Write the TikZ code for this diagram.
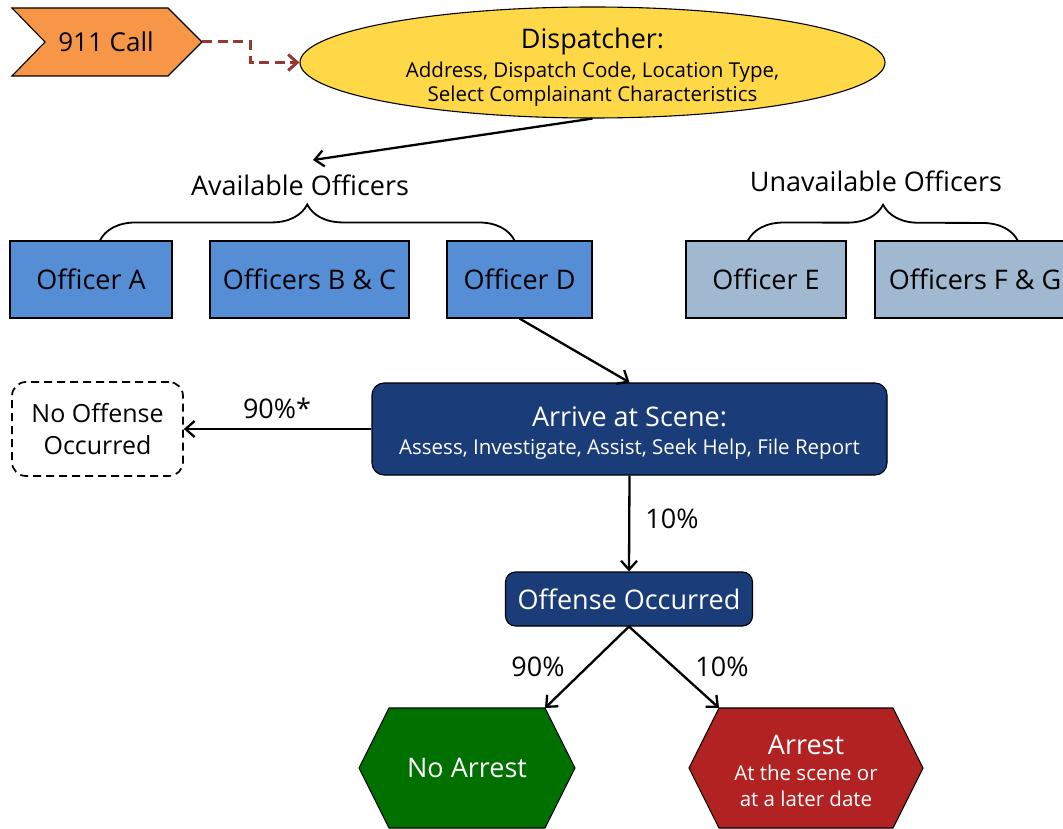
\documentclass[tikz,border=0pt]{standalone}
\usepackage{fontspec}
\setmainfont{Open Sans}
\usetikzlibrary{arrows.meta,decorations.pathreplacing,shapes.geometric}
\definecolor{callorange}{RGB}{247,150,70}
\definecolor{dashred}{RGB}{149,55,53}
\definecolor{dispyellow}{RGB}{255,216,72}
\definecolor{offblue}{RGB}{85,142,213}
\definecolor{offgrey}{RGB}{160,184,208}
\definecolor{navy}{RGB}{26,61,122}
\definecolor{nogreen}{RGB}{0,112,0}
\definecolor{arrred}{RGB}{178,34,34}
\newcommand{\bigfs}{\fontsize{27}{32}\selectfont}
\newcommand{\smallfs}{\fontsize{20.5}{24}\selectfont}
\begin{document}
\begin{tikzpicture}[x=1pt,y=-1pt,
  big/.style={font=\bigfs},
  arr/.style={-{Straight Barb[length=9pt,width=16pt,line width=2.3pt]}, line width=2.3pt},
  officer/.style={draw, line width=1.1pt, minimum height=77, inner sep=0, big},
  navybox/.style={draw, fill=navy, rounded corners=12, line width=1.1pt, text=white, inner sep=0, align=center},
  hexa/.style={draw, line width=1.1pt},
  brace/.style={decorate, decoration={brace, amplitude=36pt}, line width=1.8pt}
]
\useasboundingbox (0,0) rectangle (1063,829);

% 911 call
\path[fill=callorange, draw, line width=1.1pt] (12,8) -- (168,8) -- (202,42) -- (168,76) -- (12,76) -- (45,42) -- cycle;
\node[font=\fontsize{26}{30}\selectfont] (call) at (106,42) {911 Call};
\coordinate (calltip) at (202,42);

% dispatcher
\node[ellipse, draw, fill=dispyellow, line width=1.1pt, minimum width=585, minimum height=111, inner sep=0] (disp) at (592.5,62.5) {};
\node[align=center, inner sep=0, font=\smallfs] (disptext) at (592.5,67)
  {{\bigfs Dispatcher:}\\[5pt]Address, Dispatch Code, Location Type,\\Select Complainant Characteristics};

\draw[dashred, dash pattern=on 10pt off 5.5pt, line width=3pt, -{Straight Barb[length=9pt,width=16pt,line width=3pt]}]
  (calltip) -- (250,42) |- (disp.west);

% labels
\node[big] (avail) at (300,185) {Available Officers};
\node[big] (unavail) at (876,181) {Unavailable Officers};
\coordinate (availtip) at (313,160);
\draw[arr] (disp.south) -- (availtip);

% officers
\node[officer, fill=offblue, minimum width=162] (A) at (91,279.5) {Officer A};
\node[officer, fill=offblue, minimum width=199] (BC) at (309.5,279.5) {Officers B \& C};
\node[officer, fill=offblue, minimum width=145] (D) at (519.5,279.5) {Officer D};
\node[officer, fill=offgrey, minimum width=160] (E) at (766,279.5) {Officer E};
\node[officer, fill=offgrey, minimum width=200] (FG) at (975,279.5) {Officers F \& G};

\draw[brace] ([xshift=9]A.north) -- ([xshift=-5]D.north);
\draw[brace] ([xshift=-18]E.north) -- (1018,241);

% arrive
\node[navybox, minimum width=515, minimum height=92] (arrive) at (629.5,429) {};
\node[align=center, inner sep=0, text=white, font=\smallfs] (arrivetext) at (629.5,433)
  {{\bigfs Arrive at Scene:}\\[4pt]Assess, Investigate, Assist, Seek Help, File Report};
\draw[arr] (D.south) -- (arrive.north);

\node[draw, dash pattern=on 8pt off 5pt, line width=1.7pt, rounded corners=14, minimum width=171, minimum height=94, inner sep=0, align=center, font=\fontsize{25}{32}\selectfont] (nooff) at (97.5,429) {No Offense\\Occurred};
\draw[arr] (arrive.west) -- (nooff.east);
\node[big] (p90a) at (277,408) {90\%*};

% offense
\node[navybox, rounded corners=10, minimum width=247, minimum height=54, big] (offense) at (629,599) {Offense Occurred};
\draw[arr] (arrive.south) -- (offense.north);
\node[big] (p10a) at (672,519) {10\%};

% hexagons
\path[hexa, fill=nogreen] (359,768) -- (389,708) -- (545,708) -- (575,768) -- (545,828) -- (389,828) -- cycle;
\node[big, text=white] (noarrest) at (467,768) {No Arrest};
\coordinate (natip) at (545,708);

\path[hexa, fill=arrred] (689,768) -- (719,708) -- (893,708) -- (923,768) -- (893,828) -- (719,828) -- cycle;
\node[text=white, align=center, inner sep=0, font=\smallfs] (arrest) at (806,771)
  {{\bigfs Arrest}\\[2pt]At the scene or\\[2pt]at a later date};
\coordinate (artip) at (719,708);

\draw[arr] (offense.south) -- (natip);
\draw[arr] (offense.south) -- (artip);
\node[big] (p90b) at (538,667) {90\%};
\node[big] (p10b) at (722,667) {10\%};
\end{tikzpicture}
\end{document}
